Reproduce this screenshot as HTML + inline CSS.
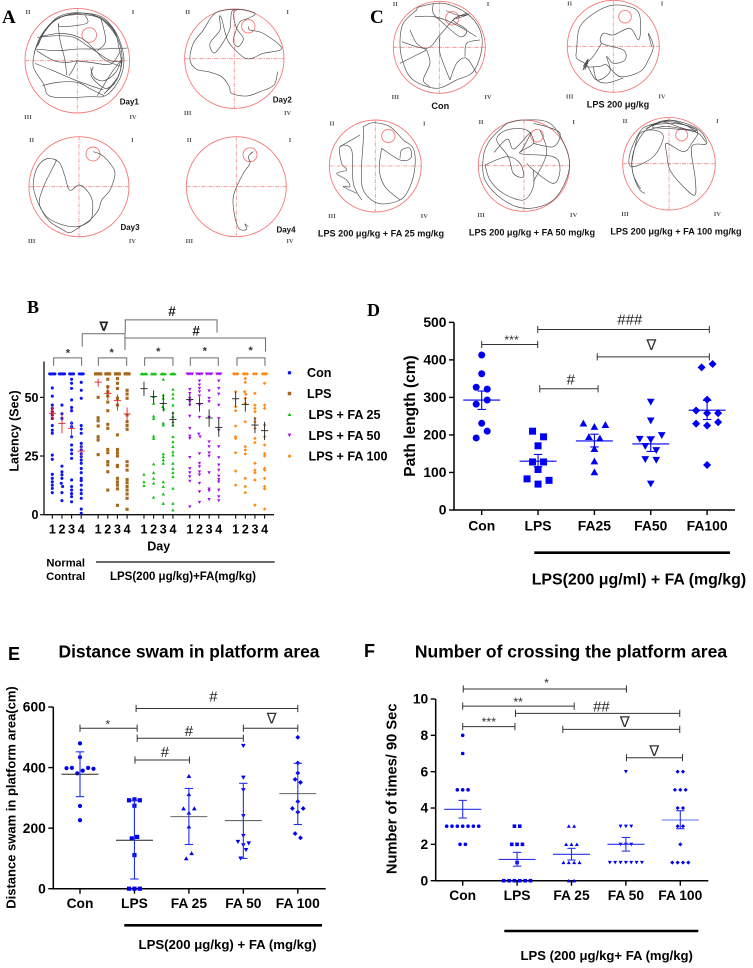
<!DOCTYPE html>
<html lang="en">
<head>
<meta charset="utf-8">
<title>Behavioural figure panels A-F</title>
<style>
html,body{margin:0;padding:0;background:#fff;}
svg{display:block;font-family:"Liberation Sans",sans-serif;}
</style>
</head>
<body>
<svg id="fig" xmlns="http://www.w3.org/2000/svg" width="753" height="968" viewBox="0 0 753 968">
  <rect x="0" y="0" width="753" height="968" fill="#fff"/>
  <g id="panelA">
    <text x="2" y="23" font-family="Liberation Serif" font-weight="700" font-size="19">A</text>
  </g>
  <g id="panelC">
    <text x="370" y="23" font-family="Liberation Serif" font-weight="700" font-size="19">C</text>
  </g>
  <g id="panelB">
    <text x="27" y="313" font-family="Liberation Serif" font-weight="700" font-size="18">B</text>
    <text transform="translate(18.5 431) rotate(-90)" text-anchor="middle" font-weight="700" font-size="12.5">Latency (Sec)</text>
    <text x="158.7" y="550.5" text-anchor="middle" font-weight="700" font-size="12.5">Day</text>
    <text x="65.7" y="566.5" text-anchor="middle" font-weight="700" font-size="11.2">Normal</text>
    <text x="65.7" y="580" text-anchor="middle" font-weight="700" font-size="11.2">Contral</text>
    <line x1="96" y1="562" x2="274.7" y2="562" stroke="#111" stroke-width="1.2"/>
    <text x="183" y="580" text-anchor="middle" font-weight="700" font-size="11.5">LPS(200 μg/kg)+FA(mg/kg)</text>
  </g>
  <g id="panelD">
    <text x="367" y="316" font-family="Liberation Serif" font-weight="700" font-size="18">D</text>
    <text transform="translate(415 416) rotate(-90)" text-anchor="middle" font-weight="700" font-size="15.5">Path length (cm)</text>
    <line x1="534.3" y1="552.7" x2="730" y2="552.7" stroke="#000" stroke-width="2.6"/>
    <text x="531.7" y="584.5" font-weight="700" font-size="15.9">LPS(200 μg/ml) + FA (mg/kg)</text>
  </g>
  <g id="panelE">
    <text x="8" y="660" font-weight="700" font-size="18">E</text>
    <text x="189" y="657.5" text-anchor="middle" font-weight="700" font-size="17.4">Distance swam in platform area</text>
    <text transform="translate(15.5 797.5) rotate(-90)" text-anchor="middle" font-weight="700" font-size="13">Distance swam in platform area(cm)</text>
    <line x1="124.3" y1="925.3" x2="322" y2="925.3" stroke="#000" stroke-width="2.6"/>
    <text x="227.5" y="949" text-anchor="middle" font-weight="700" font-size="13.2">LPS(200 μg/kg) + FA (mg/kg)</text>
  </g>
  <g id="panelF">
    <text x="364" y="657" font-weight="700" font-size="18">F</text>
    <text x="571" y="657.5" text-anchor="middle" font-weight="700" font-size="17.5">Number of crossing the platform area</text>
    <text transform="translate(396.5 788.8) rotate(-90)" text-anchor="middle" font-weight="700" font-size="14.7">Number of times/ 90 Sec</text>
    <line x1="504.3" y1="931" x2="698.3" y2="931" stroke="#000" stroke-width="2.6"/>
    <text x="606.7" y="960" text-anchor="middle" font-weight="700" font-size="13.1">LPS (200 μg/kg+ FA (mg/kg)</text>
  </g>
</svg>
<script>
/* ---------- Panel D data: path length ---------- */
const pathCategories = ['Con','LPS','FA25','FA50','FA100'];
const pathTicks = [0,100,200,300,400,500];
const pathValues = [
  [192,210,231,282,293,327,322,363,413],
  [83,69,79,108,128,128,171,210,195],
  [101,130,163,195,191,231,222,227],
  [70,135,133,170,159,189,187,199,238,288],
  [120,230,225,234,265,258,258,294,380,389]
];
const pathMeans = [293,130,184,176,266];
const pathUpper = [317,148,202,195,292];
const pathLower = [268,115,168,156,241];
const pathBrackets = [
  [0,0.994,441,'***',0.53,462],
  [0.994,4.04,481,'###',2.63,508],
  [2.05,4.04,408,'∇',3.01,441],
  [1.03,2.065,323,'#',1.58,349]
];
/* ---------- Panel E data: distance in platform area ---------- */
const distanceCategories = ['Con','LPS','FA 25','FA 50','FA 100'];
const distanceTicks = [0,200,400,600];
const distanceValues = [
  [226,273,398,399,381,390,399,396,434,480],
  [0,0,0,111,166,171,274,292,295,292],
  [100,117,205,265,251,265,312,372],
  [100,128,155,144,150,175,240,326,367,472],
  [182,168,265,253,265,288,361,351,382,415,500]
];
const distanceMeans = [378,160,238,225,314];
const distanceUpper = [452,292,331,348,414];
const distanceLower = [304,32,146,100,212];
const distanceBrackets = [
  [0,1.05,530,'*',0.51,552],
  [1.03,4,595,'#',2.45,636],
  [1.05,3,497,'#',2,521],
  [3,4,530,'∇',3.52,563],
  [1.01,2.01,425,'#',1.56,453]
];
/* ---------- Panel F data: crossings ---------- */
const crossingCategories = ['Con','LPS','FA 25','FA 50','FA 100'];
const crossingTicks = [0,2,4,6,8,10];
const crossingValues = [
  [8,7,5,5,5,3,3,3,3,3,3,3,2,2],
  [3,3,2,2,2,1,0,0,0,0,0,0],
  [3,3,2,2,2,1,1,1,1,0,0],
  [6,3,3,3,2,2,2,1,1,1,1,1,1,1],
  [6,6,5,5,5,4,4,3,3,2,1,1,1,1]
];
const crossingMeans = [3.93,1.17,1.45,2,3.34];
const crossingUpper = [4.42,1.56,1.78,2.38,3.85];
const crossingLower = [3.45,0.8,1.14,1.63,2.86];
const crossingBrackets = [
  [0.01,3.01,10.55,'*',1.54,11.05],
  [0,2.05,9.61,'**',1.02,10],
  [0.97,3.99,9.21,'##',2.55,9.61],
  [0,0.96,8.48,'***',0.48,8.9],
  [1.84,3.99,8.33,'∇',2.98,8.75],
  [3.01,4.04,6.77,'∇',3.52,7.16]
];
/* ---------- Panel B data: latency by group and day ---------- */
const latencyGroups = ['Con','LPS','LPS + FA 25','LPS + FA 50','LPS + FA 100'];
const latencyDays = [1,2,3,4];
const latencyTicks = [0,25,50];
const latencyCon = [
  [60,60,60,60,60,54,50.5,46.7,45.3,43.9,42.5,41,38,36,34.7,25.4,23.6,17.2,15.5,14,12.6,11.2,9.4],
  [60,60,60,60,60,46.7,43,41,20.7,18.3,17,15.5,13.4,12,9.4,6],
  [60,60,60,60,57.7,56,53.8,48.9,45.7,44.3,39,37.5,33.2,29.7,27.6,26,24,14.8,12,10.5,9,7.7,5.5],
  [60,60,60,60,56.4,53,49.6,38,36.5,34.7,30.4,29,27.6,26,24.7,23.3,21.9,19.7,17.9,15.5,14.5,12.6,10.5,9,7,2.4,0.6]
];
const latencyLps = [
  [60,60,60,60,60,50,41.3,40,37.8,33.2,31.8,25.6],
  [60,60,60,60,57.7,54.5,52.4,50.6,48,44.3,38.5,36.8,27.8,26.4,22.6,21.2,18.3,10.5],
  [60,60,60,60,58,56,53.8,49.6,46.7,34,27.8,26.4,25,21,20.5,15.5,14,12.6,11,4],
  [60,60,60,60,53,51.4,49.6,42.5,39.6,38,36.4,22.6,20.9,19,15,13.6,12,10.5,8.8,7,2.3]
];
const latencyFa25 = [
  [60,60,60,60,60,17.2,14,12.4],
  [60,60,60,60,50.3,47.4,42,41,33.5,32.5,21.6,17.9,15.5,13.4,7.4],
  [60,60,60,60,57.7,51,49.6,46,45,39,38.2,25.9,24.7,23.3,21.9,14,12,8.8,4.8],
  [60,60,60,60,53.4,51.4,49.6,46.7,43.5,41.8,39.6,38.2,33.2,31.1,29,26.8,25.4,21.9,19.7,17.9,16.2,11.2,4.8,2]
];
const latencyFa50 = [
  [60,60,60,60,60,53.4,51.7,49.6,48.2,46.7,42,36.8,33.5,32.5,24.4,19.7,17.9,16.2,14.3,3.4],
  [60,60,60,60,60,57,55.3,53.8,52.4,50.6,46.7,41.5,34.4,33.2,26,21.9,20.5,18.3,17,13.4,9.8,5.3],
  [60,60,60,60,60,52.8,49.6,48.2,41.5,31.1,29,26.4,25,17.9,11,10.2,6.5],
  [60,60,60,60,57,53.8,51.4,46.7,41,36,29,24.3,21.2,19,16.5,15,14,10.5,7.7,6]
];
const latencyFa100 = [
  [60,60,60,60,52.4,46,44.3,37.8,33.2,32.5,26.4,18.6,12.6],
  [60,60,60,60,58,56.4,52.4,51.3,49.6,47.4,39.6,29,27.6,25.9,15.5,12,9.4],
  [60,60,60,51.7,46.7,45.3,43.9,41,39.6,36.8,32.5,30.7,21.9,19,17.9,14.8,4.1],
  [60,60,60,60,56,46.7,45.3,38.2,33.2,29.7,26,25,19.7,19,15.5,12,11,2.4]
];
const latencyMeans = [[43.2,38.9,36.8,27.1],[56.5,51.7,48.6,42.9],[53.7,50.3,47.4,40.6],[49.1,47.4,41.2,37.2],[49.4,47,38.2,35.8]];
const latencyUpper = [[46,43.2,39.9,29.7],[58,55.3,51.3,45.7],[56.7,53,51,43.9],[51.4,50,44.9,40.6],[52.4,50,41.5,39.6]];
const latencyLower = [[40.3,34.7,33.2,24.4],[54.5,48.9,44.3,40],[50.6,47.4,44,37.5],[46.7,43.9,37.5,33.2],[46,43.9,34.7,31.8]];
/* ---------- Panels A and C: swim tracks in arena units (3 units per px, centred on arena) ---------- */
const trackDay1 = [
  [[-127,-32],[-107,-77],[-67,-122],[0,-142],[68,-134],[108,-97],[130,-52],[140,-2],[128,53],[88,103],[38,108],[-77,108],[-102,68],[-132,18],[-127,-32]],
  [[-122,-40],[-100,-84],[-60,-126],[-5,-138],[62,-130],[104,-92],[128,-48],[134,2],[122,48],[84,96]],
  [[-118,-46],[-96,-90],[-56,-132],[5,-144],[72,-128],[112,-88],[124,-44],[132,8],[118,58],[80,100]],
  [[-130,-20],[-112,-70],[-76,-114],[-20,-140],[45,-138],[96,-106],[120,-70]],
  [[-125,-35],[-60,-30],[0,-35],[70,-35],[150,-38]],
  [[-120,-70],[-60,-75],[-10,-70],[30,-45],[60,-25],[100,0],[135,3]],
  [[-112,-72],[-47,-82],[13,-67],[53,-32],[83,-2],[133,18]],
  [[-57,-112],[-52,-62],[-37,-2],[-32,43]],
  [[-127,8],[-77,28],[-7,58],[78,88]],
  [[-105,75],[-60,65],[0,65],[40,85],[80,105]],
  [[-5,0],[40,5],[100,10],[130,-30]],
  [[0,0],[-15,30],[-25,45]],
  [[48,18],[43,48],[83,83],[113,68]],
  [[40,20],[50,50],[80,60],[115,35],[135,-10]],
  [[60,105],[100,40],[130,0]],
  [[70,-130],[85,-60],[60,-30]],
  [[23,-137],[28,-112],[-47,-102],[-57,-112]],
  [[-122,-30],[-70,0],[-30,5],[0,0]]
];
const trackDay2 = [
  [[130,39],[119,79],[77,99],[37,112],[-8,104],[-15,84],[-38,54],[-78,39],[-113,32],[-133,4],[-123,-46],[-93,-86],[-68,-126],[-43,-143],[17,-148],[62,-136],[42,-121],[17,-111],[2,-76],[-3,-51],[12,-36],[27,-61],[7,-91],[-3,-136],[12,-148],[-8,-140],[-13,-90],[-33,-50],[-60,-17],[-73,-46],[-43,-86],[-45,-126],[-38,-120],[-25,-70],[-10,-40],[37,0],[87,-16],[142,-31],[87,-76],[47,-86],[42,-97]]
];
const trackDay3 = [
  [[-67,-80],[-82,-50],[-102,-10],[-119,40],[-112,70],[-87,105],[-47,130],[-27,138],[3,120],[33,100],[58,70],[68,40],[93,10],[108,-40],[93,-70],[68,-95],[43,-105]],
  [[-67,-80],[-92,-85],[-117,-70],[-132,-40],[-137,0],[-122,50],[-97,90],[-57,112],[-7,120],[33,102],[41,70],[38,35],[18,5],[-2,-5],[-22,10],[-32,5],[-42,-30],[-57,-70],[-77,-83]]
];
const trackDay4 = [
  [[36,120],[26,112],[31,128],[11,128],[-1,105],[-9,60],[-9,30],[1,0],[21,-40],[41,-70],[36,-90],[51,-105],[41,-98]]
];
const trackCon = [
  [[-68,-112],[-108,-72],[-118,-12],[-108,48],[-78,98],[-8,123],[52,98],[102,73],[127,8],[122,-52],[82,-102],[12,-132],[-58,-122],[-68,-112]],
  [[-113,-17],[-38,3],[2,-37],[42,-82],[82,-102]],
  [[-73,-92],[-18,-92],[42,-72],[112,-32]],
  [[2,-32],[2,18],[32,98]],
  [[-118,48],[-38,8]],
  [[-38,8],[-28,48],[-48,98],[-28,118]],
  [[32,98],[52,48],[82,33],[112,78]],
  [[77,28],[82,-12],[122,-22]],
  [[-18,-132],[-18,-102],[12,-72],[62,-32],[82,-52],[42,-82],[82,-102]],
  [[-88,-52],[-68,-12],[-38,8]],
  [[20,-110],[60,-95],[90,-100],[50,-85]]
];
const trackLps = [
  [[-110,11],[-100,-59],[-50,-104],[5,-124],[70,-109],[82,-59],[75,-19],[50,-54],[0,-34],[-30,-39],[-35,-9],[30,11],[35,41],[0,51],[-20,31],[-10,76],[-50,101],[-80,56],[-110,36],[-110,11]],
  [[-35,-9],[-60,30],[-85,60],[-40,60],[-20,56],[20,91],[80,76],[105,41],[120,1],[105,-39],[115,1]],
  [[-60,60],[-50,100],[-20,110],[30,95]],
  [[-92,72],[-80,55],[-88,65],[-75,38],[-90,60],[-78,45],[-85,70],[-75,40],[-90,68],[-76,50],[-92,72]]
];
const trackFa25 = [
  [[-36,-118],[-6,-130],[44,-118],[84,-78],[114,-53],[119,2],[104,62],[74,102],[9,112],[-36,72],[-41,2],[-36,-78],[-36,-118]],
  [[19,-53],[74,-18],[106,-23],[104,-53],[79,-48],[74,-23]],
  [[19,-53],[12,12],[29,62],[74,102]],
  [[-41,102],[-66,52],[-71,-48],[-106,-58],[-101,-8],[-86,12],[-116,22],[-86,42],[-76,62],[-96,62],[-56,82]],
  [[-46,-93],[-106,-58]]
];
const trackFa50 = [
  [[-52,-127],[-2,-137],[78,-127],[128,-47],[133,23],[88,103],[8,128],[-62,103],[-117,43],[-122,-27],[-102,-77],[-52,-127]],
  [[-117,-2],[-52,-27],[-12,-7],[-2,33],[-32,23],[-47,-27],[-82,-77],[-52,-107],[8,-107],[28,-67],[-12,-37],[88,-27],[108,13],[88,53],[28,13],[8,-7]],
  [[28,13],[28,63],[-2,103],[-62,83],[-102,43],[-117,-2]],
  [[28,-67],[88,-57],[108,-97],[68,-117],[28,-127]],
  [[48,-107],[68,-37],[28,48]],
  [[-90,-40],[-50,-80],[-30,-50],[20,-100],[-10,-40]]
];
const trackFa100 = [
  [[-72,89],[-87,79],[-102,49],[-112,-1],[-97,-61],[-57,-111],[3,-131],[83,-106],[113,-61],[68,-51],[78,39],[78,94],[43,69],[3,19],[-7,-31],[-7,-61],[43,-36],[68,-61],[83,-101],[3,-126],[-57,-116],[-87,-96],[-117,-31],[-112,9],[-47,-21],[-17,-81],[-47,-101],[-87,-91],[-102,-51],[-112,-1]],
  [[-70,-105],[-20,-125],[30,-110],[80,-95],[50,-115],[0,-130],[-50,-110],[10,-105],[60,-100],[90,-90],[110,-65]],
  [[-60,-115],[-10,-120],[40,-118],[85,-100],[40,-105],[-15,-112],[-65,-100]],
  [[-112,-5],[-108,30],[-95,60],[-85,75]]
];

/* ---------- drawing helpers ---------- */
const NS = 'http://www.w3.org/2000/svg';
function node(parent, tag, attrs, name) {
  const e = document.createElementNS(NS, tag);
  for (const k in attrs) e.setAttribute(k, attrs[k]);
  
  
  parent.appendChild(e);
  return e;
}
function seg(p, x1, y1, x2, y2, stroke, w, name) {
  return node(p, 'line', {x1:x1, y1:y1, x2:x2, y2:y2, stroke:stroke, 'stroke-width':w}, name);
}
function label(p, x, y, str, attrs, name) {
  const e = node(p, 'text', Object.assign({x:x, y:y}, attrs), name);
  e.textContent = str;
  return e;
}
function glyph(p, shape, x, y, s, color, name) {
  if (shape === 'circle') return node(p, 'circle', {cx:x, cy:y, r:s, fill:color}, name);
  if (shape === 'square') return node(p, 'rect', {x:x-s, y:y-s, width:2*s, height:2*s, fill:color}, name);
  let pts;
  if (shape === 'up') pts = [[x,y-s*1.05],[x+s*1.1,y+s*0.9],[x-s*1.1,y+s*0.9]];
  else if (shape === 'down') pts = [[x,y+s*1.05],[x+s*1.1,y-s*0.9],[x-s*1.1,y-s*0.9]];
  else pts = [[x,y-s*1.15],[x+s*1.15,y],[x,y+s*1.15],[x-s*1.15,y]];
  return node(p, 'polygon', {points:pts.map(q => q.join(',')).join(' '), fill:color}, name);
}
/* Prism-style column scatter: points sharing a value bin are centred side by side, in input order. */
function swarm(values, binWidth, binOrigin, step) {
  const bins = {};
  values.forEach((v, i) => {
    const b = Math.floor((v - binOrigin) / binWidth);
    (bins[b] = bins[b] || []).push(i);
  });
  const out = new Array(values.length).fill(0);
  Object.values(bins).forEach(list => {
    list.forEach((idx, k) => { out[idx] = (k - (list.length - 1) / 2) * step; });
  });
  return out;
}
/* Catmull-Rom smoothing so swim tracks read as curves. */
function smoothPath(pts) {
  let d = 'M' + pts[0][0].toFixed(2) + ' ' + pts[0][1].toFixed(2);
  for (let i = 0; i < pts.length - 1; i++) {
    const p0 = pts[Math.max(i - 1, 0)], p1 = pts[i], p2 = pts[i + 1], p3 = pts[Math.min(i + 2, pts.length - 1)];
    const c1x = p1[0] + (p2[0] - p0[0]) / 6, c1y = p1[1] + (p2[1] - p0[1]) / 6;
    const c2x = p2[0] - (p3[0] - p1[0]) / 6, c2y = p2[1] - (p3[1] - p1[1]) / 6;
    d += 'C' + c1x.toFixed(2) + ' ' + c1y.toFixed(2) + ' ' + c2x.toFixed(2) + ' ' + c2y.toFixed(2) + ' ' + p2[0].toFixed(2) + ' ' + p2[1].toFixed(2);
  }
  return d;
}
function drawSignificance(p, list, xs, ys, color, size) {
  list.forEach(b => {
    const x1 = xs(b[0]), x2 = xs(b[1]), y = ys(b[2]);
    seg(p, x1, y, x2, y, color, 1, 'significance-bracket');
    seg(p, x1, y-3.6, x1, y+3.6, color, 1, 'significance-bracket-cap');
    seg(p, x2, y-3.6, x2, y+3.6, color, 1, 'significance-bracket-cap');
    const t = b[3], cx = xs(b[4]), cy = ys(b[5]);
    if (t[0] === '*') {
      label(p, cx, cy + 0.58*size*0.95, t, {'text-anchor':'middle', 'font-size':size*0.95, 'fill':'#333'}, 'significance-stars');
    } else if (t[0] === '#') {
      label(p, cx, cy + 0.35*size*1.15, t, {'text-anchor':'middle', 'font-size':size*1.15, 'fill':'#222'}, 'significance-hash');
    } else {
      label(p, cx, cy + 0.36*size*1.15, t, {'text-anchor':'middle', 'font-size':size*1.15, 'fill':'#333', 'font-family':'DejaVu Sans'}, 'significance-triangle');
    }
  });
}
/* ---------- column scatter charts D, E, F ---------- */
const shapesFive = ['circle','square','up','down','diamond'];
function drawScatter(cfg) {
  const p = document.getElementById(cfg.panel);
  const xs = c => cfg.x0 + c * cfg.dx;
  const ys = v => cfg.y0 - v * cfg.k;
  seg(p, cfg.axisX, ys(cfg.ticks[0]), cfg.axisX, ys(cfg.ticks[cfg.ticks.length-1]), '#000', 1.5, 'y-axis-line');
  seg(p, cfg.axisX-0.75, ys(cfg.ticks[0]), cfg.axisEnd, ys(cfg.ticks[0]), '#000', 1.5, 'x-axis-line');
  cfg.ticks.forEach(t => {
    seg(p, cfg.axisX-5, ys(t), cfg.axisX, ys(t), '#000', 1.4, 'y-axis-tick');
    label(p, cfg.axisX-7.5, ys(t)+4.7, t, {'text-anchor':'end', 'font-weight':700, 'font-size':cfg.tickFont}, 'y-tick-label');
  });
  cfg.categories.forEach((c, i) => {
    seg(p, xs(i), cfg.y0, xs(i), cfg.y0+5, '#000', 1.4, 'x-axis-tick');
    label(p, xs(i), cfg.y0+cfg.catDy, c, {'text-anchor':'middle', 'font-weight':700, 'font-size':cfg.tickFont}, 'x-tick-label');
    const offs = swarm(cfg.values[i], cfg.binWidth, cfg.binOrigin, cfg.step);
    cfg.values[i].forEach((v, j) => {
      glyph(p, shapesFive[i], xs(i)+offs[j], ys(v), cfg.size, '#0000f0', 'data-point-' + String(c).toLowerCase().replace(/\s/g,''));
    });
    seg(p, xs(i)-18.5, ys(cfg.means[i]), xs(i)+18.5, ys(cfg.means[i]), cfg.meanColors[i], 1.1, 'mean-line');
    seg(p, xs(i), ys(cfg.upper[i]), xs(i), ys(cfg.lower[i]), cfg.errColor, 1.1, 'error-bar');
    seg(p, xs(i)-4.2, ys(cfg.upper[i]), xs(i)+4.2, ys(cfg.upper[i]), cfg.errColor, 1.1, 'error-cap-upper');
    seg(p, xs(i)-4.2, ys(cfg.lower[i]), xs(i)+4.2, ys(cfg.lower[i]), cfg.errColor, 1.1, 'error-cap-lower');
  });
  drawSignificance(p, cfg.brackets, xs, ys, '#333', cfg.sigSize);
}
drawScatter({panel:'panelD', categories:pathCategories, ticks:pathTicks, values:pathValues, means:pathMeans, upper:pathUpper, lower:pathLower, brackets:pathBrackets,
  x0:481.7, dx:56.35, y0:510, k:0.3753, axisX:454, axisEnd:735, tickFont:13.9, catDy:20.5, binWidth:30, binOrigin:5, step:11, size:3.5,
  meanColors:['#0000f0','#0000f0','#0000f0','#0000f0','#0000f0'], errColor:'#0000f0', sigSize:13});
drawScatter({panel:'panelE', categories:distanceCategories, ticks:distanceTicks, values:distanceValues, means:distanceMeans, upper:distanceUpper, lower:distanceLower, brackets:distanceBrackets,
  x0:80, dx:54.45, y0:888.7, k:0.3028, axisX:53.3, axisEnd:325.7, tickFont:13.8, catDy:19.5, binWidth:30, binOrigin:10, step:5.4, size:2.1,
  meanColors:['#222','#222','#666','#666','#666'], errColor:'#2030f0', sigSize:13});
drawScatter({panel:'panelF', categories:crossingCategories, ticks:crossingTicks, values:crossingValues, means:crossingMeans, upper:crossingUpper, lower:crossingLower, brackets:crossingBrackets,
  x0:462.7, dx:54.4, y0:880.7, k:18.17, axisX:435.7, axisEnd:708.3, tickFont:13.8, catDy:19.5, binWidth:1, binOrigin:-0.5, step:5.35, size:1.8,
  meanColors:['#2a30f0','#2a30f0','#2a30f0','#2a30f0','#5a70f0'], errColor:'#2a30f0', sigSize:13});

/* ---------- chart B ---------- */
(function drawLatency() {
  const p = document.getElementById('panelB');
  const series = [latencyCon, latencyLps, latencyFa25, latencyFa50, latencyFa100];
  const colors = ['#0a14f0','#a5681c','#10c010','#a40ee8','#ff8a14'];
  const errColors = ['#e4202c','#e4202c','#222','#222','#222'];
  const gap = 4.75;
  const slot = (g, d) => g * gap + d;
  const xs = i => 52.3 + 9.65 * i;
  const ys = v => 514.7 - v * 2.347;
  seg(p, 44, ys(65.3), 44, ys(0), '#111', 1.3, 'y-axis-line');
  seg(p, 44, ys(0), 274, ys(0), '#111', 1.3, 'x-axis-line');
  latencyTicks.forEach(t => {
    seg(p, 40, ys(t), 44, ys(t), '#111', 1.2, 'y-axis-tick');
    label(p, 38.5, ys(t)+4.5, t, {'text-anchor':'end', 'font-weight':700, 'font-size':12.5}, 'y-tick-label');
  });
  latencyGroups.forEach((g, gi) => {
    latencyDays.forEach((d, di) => {
      const cx = xs(slot(gi, di));
      seg(p, cx, ys(0), cx, ys(0)+4, '#111', 1.1, 'x-axis-tick');
      label(p, cx, ys(0)+18.8, d, {'text-anchor':'middle', 'font-weight':700, 'font-size':12.5}, 'x-tick-label');
      const vals = series[gi][di];
      const offs = swarm(vals, 1.5, 0, 1.3);
      vals.forEach((v, j) => {
        glyph(p, shapesFive[gi], cx+offs[j], ys(v), 1.55, colors[gi], 'latency-point');
      });
      seg(p, cx-3.6, ys(latencyMeans[gi][di]), cx+3.6, ys(latencyMeans[gi][di]), errColors[gi], 0.9, 'mean-line');
      seg(p, cx, ys(latencyUpper[gi][di]), cx, ys(latencyLower[gi][di]), errColors[gi], 0.9, 'error-bar');
    });
  });
  /* group brackets: [fromSlot, toSlot, topValue, leftDropValue, rightDropValue] */
  const brackets = [[0.14,3.04,66.8,63.4,63.4],[4.77,7.71,66.8,63.4,63.4],[9.57,12.5,66.8,63.4,63.4],[14.3,17.2,66.8,63.4,63.4],[19.14,22.04,66.8,63.4,63.4],
    [3.1,7.53,77.1,71.6,71.6],[7.56,17.07,83,77.3,77.6],[7.53,22.1,75.3,70.2,69.5]];
  brackets.forEach(b => {
    const pts = [[xs(b[0]),ys(b[3])],[xs(b[0]),ys(b[2])],[xs(b[1]),ys(b[2])],[xs(b[1]),ys(b[4])]];
    node(p, 'polyline', {points:pts.map(q => q.join(',')).join(' '), fill:'none', stroke:'#6a6a6a', 'stroke-width':1}, 'comparison-bracket');
  });
  const starSlots = [1.62,6.15,10.98,15.8,20.55];
  const starLevels = [69.9,70.2,70.5,70.9,71];
  starSlots.forEach((s, i) => {
    label(p, xs(s), ys(starLevels[i])+6, '*', {'text-anchor':'middle', 'font-size':11, 'font-weight':700, 'fill':'#333'}, 'significance-star');
  });
  label(p, xs(5.33), ys(80.4)+4.8, '∇', {'text-anchor':'middle', 'font-size':13, 'font-family':'DejaVu Sans', 'font-weight':700, 'fill':'#222'}, 'significance-triangle');
  label(p, xs(12.4), ys(86.8)+5, '#', {'text-anchor':'middle', 'font-size':13.5, 'font-weight':700, 'fill':'#222'}, 'significance-hash');
  label(p, xs(14.9), ys(78.5)+5, '#', {'text-anchor':'middle', 'font-size':13.5, 'font-weight':700, 'fill':'#222'}, 'significance-hash');
  latencyGroups.forEach((g, gi) => {
    const ly = 372.7 + gi * 20.85;
    glyph(p, shapesFive[gi], 289.5, ly, 1.75, colors[gi], 'legend-marker');
    label(p, gi < 2 ? 307 : 308.5, ly+4.5, g, {'font-weight':700, 'font-size':12.6}, 'legend-entry');
  });
})();

/* ---------- arenas A and C ---------- */
const arenaPanelA = [
  {id:'day1', cx:77.3, cy:60.7, r:52.3, px:89.3, py:35, pr:7.3, quad:[-148,167,-147,168], track:trackDay1, cap:'Day1', capX:129.3, capY:101.7, capSize:8},
  {id:'day2', cx:234.3, cy:58.7, r:49.7, px:248.3, py:26.3, pr:6.7, quad:[-140,160,-140,162], track:trackDay2, cap:'Day2', capX:282.3, capY:99.3, capSize:8},
  {id:'day3', cx:79, cy:186.7, r:50, px:93, py:154, pr:7, quad:[-142,160,-140,162], track:trackDay3, cap:'Day3', capX:130, capY:227, capSize:8},
  {id:'day4', cx:236.3, cy:186.7, r:50, px:250, py:154.7, pr:7, quad:[-141,161,-140,162], track:trackDay4, cap:'Day4', capX:286, capY:229.3, capSize:8}
];
const arenaPanelC = [
  {id:'con', cx:439.3, cy:47.3, r:46, px:452.3, py:18.3, pr:6.7, quad:[-132,146,-130,149], track:trackCon, cap:'Con', capX:440.3, capY:106, capSize:9.15},
  {id:'lps', cx:613.3, cy:46.3, r:46, px:625, py:16.7, pr:6.3, quad:[-131,146,-129,150], track:trackLps, cap:'LPS 200 μg/kg', capX:618, capY:104.3, capSize:9.15},
  {id:'fa25', cx:375.3, cy:166, r:46, px:388.3, py:136, pr:6.7, quad:[-130,147,-128,150], track:trackFa25, cap:'LPS 200 μg/kg + FA 25 mg/kg', capX:381, capY:233.3, capSize:9.15},
  {id:'fa50', cx:524, cy:165.7, r:45.7, px:537, py:135.7, pr:6.3, quad:[-129,149,-131,148], track:trackFa50, cap:'LPS 200 μg/kg + FA 50 mg/kg', capX:532, capY:232.3, capSize:9.15},
  {id:'fa100', cx:669, cy:163.7, r:46.3, px:681.7, py:135, pr:6, quad:[-132,145,-128,151], track:trackFa100, cap:'LPS 200 μg/kg + FA 100 mg/kg', capX:676, capY:231.7, capSize:9.15}
];
function drawArena(p, a) {
  const g = node(p, 'g', {}, 'arena-' + a.id);
  node(g, 'circle', {cx:a.cx, cy:a.cy, r:a.r, fill:'none', stroke:'#f4797a', 'stroke-width':0.9}, 'arena-boundary');
  const dash = {'stroke-dasharray':'4 1.2 1 1.2'};
  node(g, 'line', Object.assign({x1:a.cx-a.r, y1:a.cy, x2:a.cx+a.r, y2:a.cy, stroke:'#f28a8a', 'stroke-width':0.8}, dash), 'arena-horizontal-axis');
  node(g, 'line', Object.assign({x1:a.cx, y1:a.cy-a.r, x2:a.cx, y2:a.cy+a.r, stroke:'#f28a8a', 'stroke-width':0.8}, dash), 'arena-vertical-axis');
  node(g, 'circle', {cx:a.px, cy:a.py, r:a.pr, fill:'none', stroke:'#f4797a', 'stroke-width':0.9}, 'platform-area');
  const tx = u => a.cx + u / 3;
  const ty = u => a.cy + u / 3;
  a.track.forEach(part => {
    node(g, 'path', {d:smoothPath(part.map(q => [tx(q[0]), ty(q[1])])), fill:'none', stroke:'#4a4a4a', 'stroke-width':0.65, 'stroke-linejoin':'round'}, 'swim-track');
  });
  const quadText = {'text-anchor':'middle', 'font-family':'Liberation Serif', 'font-size':6.5, 'font-weight':700, 'fill':'#555'};
  label(g, tx(a.quad[0]), ty(a.quad[2])+2.2, 'II', quadText, 'quadrant-2-label');
  label(g, tx(a.quad[1]), ty(a.quad[2])+2.2, 'I', quadText, 'quadrant-1-label');
  label(g, tx(a.quad[0]), ty(a.quad[3])+2.2, 'III', quadText, 'quadrant-3-label');
  label(g, tx(a.quad[1]), ty(a.quad[3])+2.2, 'IV', quadText, 'quadrant-4-label');
  label(g, a.capX, a.capY+3, a.cap, {'text-anchor':'middle', 'font-weight':700, 'font-size':a.capSize, 'fill':'#111'}, 'arena-caption');
}
arenaPanelA.forEach(a => drawArena(document.getElementById('panelA'), a));
arenaPanelC.forEach(a => drawArena(document.getElementById('panelC'), a));
</script>
</body>
</html>
